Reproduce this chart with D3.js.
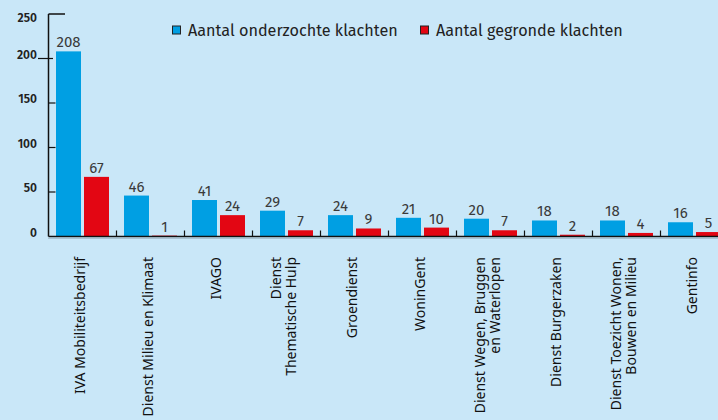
<!DOCTYPE html>
<html>
<head>
<meta charset="utf-8">
<script src="https://cdn.jsdelivr.net/npm/d3@7"></script>
<style>
  body { margin: 0; background: #c9e7f8; }
  svg { display: block; }
</style>
</head>
<body>
<svg id="chart" width="718" height="420"></svg>
<script>
// data
const categories = [
    "IVA Mobiliteitsbedrijf",
    "Dienst Milieu en Klimaat",
    "IVAGO",
    "Dienst|Thematische Hulp",
    "Groendienst",
    "WoninGent",
    "Dienst Wegen, Bruggen|en Waterlopen",
    "Dienst Burgerzaken",
    "Dienst Toezicht Wonen,|Bouwen en Milieu",
    "Gentinfo"
];
const onderzocht = [208, 46, 41, 29, 24, 21, 20, 18, 18, 16];
const gegrond = [67, 1, 24, 7, 9, 10, 7, 2, 4, 5];
const seriesNames = ["Aantal onderzochte klachten", "Aantal gegronde klachten"];
const yTicks = [0, 50, 100, 150, 200, 250];

const colors = ["#009fe3", "#e30613"];
const font = "'Fira Sans', 'Noto Sans', sans-serif";

const svg = d3.select("#chart");

const x0 = d3.scaleBand()
    .domain(categories)
    .range([48.5, 48.5 + 68 * categories.length])
    .paddingInner(0);

const x1 = d3.scaleBand()
    .domain([0, 1])
    .range([7.5, 60.5])
    .paddingInner(3 / 28);

const y = d3.scaleLinear()
    .domain([0, 250])
    .range([236.5, 14]);

const rows = categories.map((c, i) => ({ cat: c, values: [onderzocht[i], gegrond[i]] }));

// faint line under the baseline
svg.append("line")
    .attr("x1", 48).attr("x2", 718)
    .attr("y1", 238.5).attr("y2", 238.5)
    .attr("stroke", "#a9c3d3")
    .attr("stroke-width", 1);

// bars
const group = svg.selectAll(".grp")
    .data(rows)
    .enter().append("g")
    .attr("class", "grp")
    .attr("transform", d => `translate(${x0(d.cat)},0)`);

group.selectAll("rect")
    .data(d => d.values.map((v, k) => ({ v, k })))
    .enter().append("rect")
    .attr("x", d => x1(d.k))
    .attr("width", x1.bandwidth())
    .attr("y", d => y(d.v))
    .attr("height", d => y(0) - y(d.v))
    .attr("fill", d => colors[d.k]);

group.selectAll(".val")
    .data(d => d.values.map((v, k) => ({ v, k })))
    .enter().append("text")
    .attr("class", "val")
    .attr("x", d => x1(d.k) + x1.bandwidth() / 2)
    .attr("y", d => y(d.v) - 4)
    .attr("text-anchor", "middle")
    .style("font-family", font)
    .style("font-size", "15px")
    .style("fill", "#3a3a3a")
    .text(d => d.v);

// x axis line + category ticks
svg.append("line")
    .attr("x1", 48.5).attr("x2", 718)
    .attr("y1", y(0)).attr("y2", y(0))
    .attr("stroke", "#111")
    .attr("stroke-width", 1.5);

svg.selectAll(".ctick")
    .data(categories.slice(1))
    .enter().append("line")
    .attr("class", "ctick")
    .attr("x1", d => x0(d)).attr("x2", d => x0(d))
    .attr("y1", y(0)).attr("y2", y(0) - 6)
    .attr("stroke", "#111")
    .attr("stroke-width", 1.2);

// y axis
svg.append("line")
    .attr("x1", 48.5).attr("x2", 48.5)
    .attr("y1", y(250)).attr("y2", y(0))
    .attr("stroke", "#111")
    .attr("stroke-width", 1.5);

svg.selectAll(".ytick")
    .data(yTicks.filter(t => t > 0))
    .enter().append("line")
    .attr("class", "ytick")
    .attr("x1", d => d === 200 ? 38 : 48.5)
    .attr("x2", d => d === 250 ? 65 : (d === 200 ? 53 : 55.5))
    .attr("y1", d => y(d)).attr("y2", d => y(d))
    .attr("stroke", "#111")
    .attr("stroke-width", d => d === 250 ? 1.5 : 1.2);

svg.selectAll(".ylab")
    .data(yTicks)
    .enter().append("text")
    .attr("class", "ylab")
    .attr("x", 37)
    .attr("y", d => Math.max(y(d), 22))
    .attr("text-anchor", "end")
    .style("font-family", font)
    .style("font-size", "12px")
    .style("font-weight", "600")
    .style("fill", "#222")
    .text(d => d);

// category labels, rotated
const clab = svg.selectAll(".clab")
    .data(categories)
    .enter().append("text")
    .attr("class", "clab")
    .attr("transform", d => `translate(${x0(d) + x0.bandwidth() / 2 - 3},257) rotate(-90)`)
    .attr("text-anchor", "end")
    .style("font-family", "'Noto Sans', sans-serif")
    .style("font-size", "14px")
    .style("fill", "#111");

clab.each(function (d) {
    const lines = d.split("|");
    const t = d3.select(this);
    lines.forEach((ln, i) => {
        t.append("tspan")
            .attr("x", 0)
            .attr("y", (i - (lines.length - 1) / 2) * 15 + 5)
            .text(ln);
    });
});

// legend
const legX = [172.5, 420.5];
const leg = svg.selectAll(".leg")
    .data(seriesNames)
    .enter().append("g")
    .attr("class", "leg")
    .attr("transform", (d, i) => `translate(${legX[i]},26)`);

leg.append("rect")
    .attr("width", 8).attr("height", 8)
    .attr("fill", (d, i) => colors[i])
    .attr("stroke", "#222")
    .attr("stroke-width", 1);

leg.append("text")
    .attr("x", 15.5)
    .attr("y", 9.5)
    .style("font-family", font)
    .style("font-size", "16.2px")
    .style("fill", "#222")
    .text(d => d);
</script>
</body>
</html>
